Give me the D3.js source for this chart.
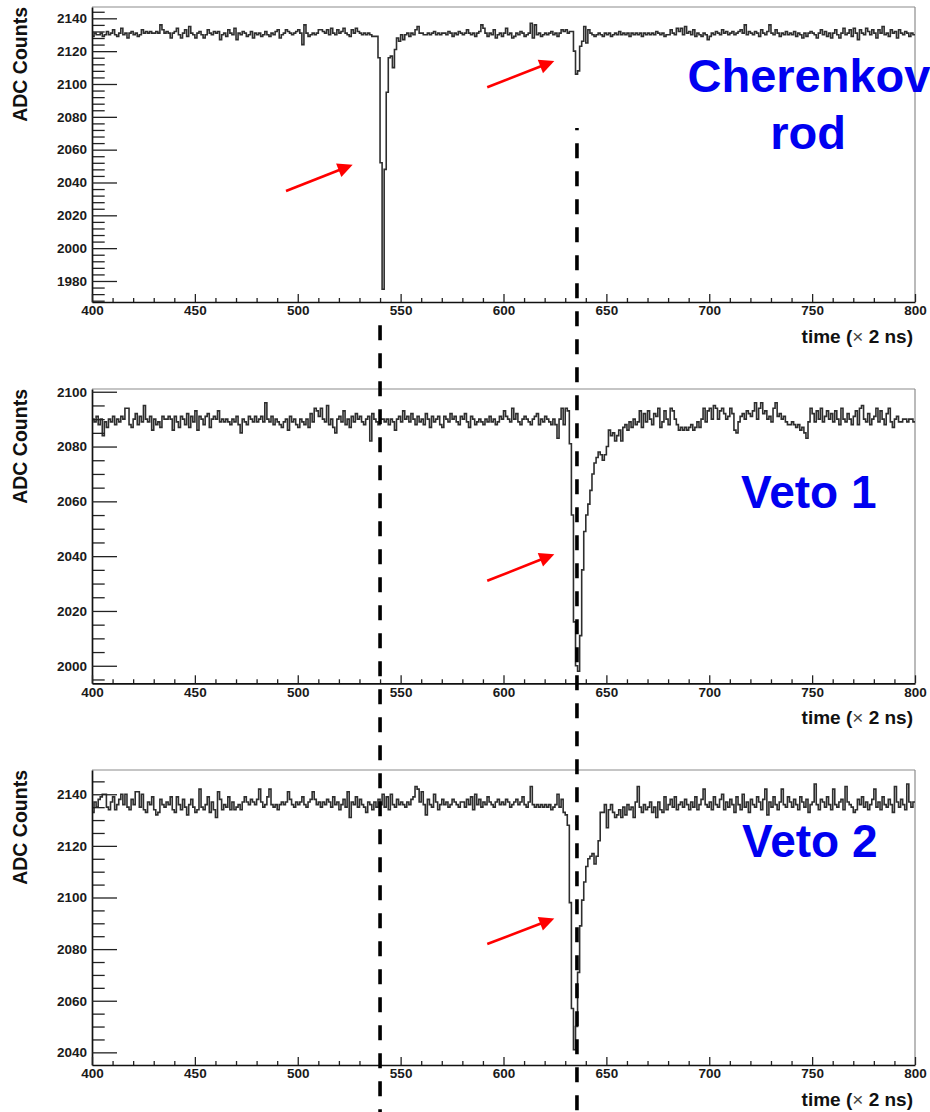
<!DOCTYPE html>
<html><head><meta charset="utf-8">
<script src="https://cdn.jsdelivr.net/npm/d3@7"></script>
<style>body{margin:0;background:#fff} svg{display:block}</style>
</head><body>
<svg id="c" width="930" height="1112"></svg>
<script>
// ---------------- data ----------------
const timeStart = 400;                       // first bin (x 2 ns)
const xTickLabels = [400,450,500,550,600,650,700,750,800];

const cherenkov = [
2129,2131,2130,2130,2131,2129,2130,2132,2130,2131,2133,2130,2129,2131,2134,2130,2131,2128,2131,2132,
2130,2131,2129,2130,2133,2131,2132,2131,2132,2131,2131,2132,2131,2136,2133,2131,2132,2131,2128,2131,
2132,2134,2130,2128,2131,2133,2129,2135,2131,2130,2128,2131,2132,2130,2128,2130,2133,2131,2130,2132,
2131,2132,2127,2130,2131,2129,2133,2131,2130,2134,2127,2131,2130,2132,2131,2129,2130,2132,2128,2131,
2130,2131,2129,2130,2132,2130,2129,2131,2130,2132,2133,2128,2130,2131,2133,2132,2131,2130,2131,2132,
2133,2131,2124,2136,2131,2129,2130,2131,2130,2131,2133,2133,2132,2131,2133,2130,2134,2131,2130,2133,
2131,2132,2134,2131,2130,2129,2133,2131,2134,2132,2131,2130,2131,2130,2131,2130,2129,2129,2129,2116,
2052,1975,2048,2095,2116,2117,2110,2121,2128,2126,2130,2127,2130,2131,2129,2131,2130,2133,2135,2131,
2131,2130,2130,2131,2130,2131,2132,2130,2131,2130,2131,2131,2130,2132,2131,2129,2131,2130,2132,2131,
2130,2131,2133,2131,2130,2131,2129,2131,2132,2136,2134,2131,2129,2131,2130,2133,2128,2130,2131,2129,
2131,2134,2130,2131,2128,2129,2131,2130,2132,2131,2129,2130,2131,2137,2128,2136,2130,2131,2129,2130,
2131,2130,2131,2132,2130,2131,2129,2131,2133,2132,2133,2131,2132,2132,2120,2106,2108,2123,2126,2135,
2125,2133,2131,2130,2129,2130,2131,2130,2129,2131,2130,2131,2129,2130,2131,2130,2132,2130,2131,2130,
2131,2129,2131,2130,2131,2130,2131,2129,2131,2130,2131,2130,2131,2130,2132,2131,2130,2131,2129,2130,
2130,2133,2131,2130,2134,2132,2134,2130,2135,2131,2132,2130,2133,2129,2131,2130,2129,2131,2130,2127,
2129,2131,2130,2132,2131,2130,2133,2131,2132,2130,2131,2132,2130,2131,2132,2133,2131,2136,2130,2132,
2131,2130,2132,2131,2129,2133,2131,2130,2132,2136,2131,2130,2133,2131,2129,2131,2130,2132,2130,2131,
2130,2132,2129,2131,2130,2128,2131,2129,2131,2132,2131,2130,2128,2131,2133,2130,2132,2129,2131,2128,
2131,2133,2130,2128,2131,2134,2130,2131,2133,2129,2134,2131,2127,2133,2131,2130,2134,2132,2130,2133,
2131,2128,2133,2131,2135,2130,2131,2129,2133,2131,2132,2128,2133,2131,2130,2132,2131,2129,2131,2130
];

const veto1 = [
2090,2089,2091,2088,2090,2084,2089,2087,2090,2089,2091,2088,2090,2089,2091,2090,2094,2094,2088,2087,
2090,2092,2088,2091,2089,2095,2090,2089,2091,2086,2090,2088,2089,2087,2091,2090,2090,2091,2090,2086,
2091,2089,2087,2091,2090,2088,2092,2087,2091,2089,2093,2086,2091,2090,2088,2091,2092,2087,2090,2091,
2090,2093,2089,2090,2089,2090,2089,2088,2090,2089,2091,2088,2085,2090,2089,2088,2091,2090,2089,2091,
2089,2090,2091,2089,2096,2090,2089,2091,2088,2090,2089,2088,2087,2089,2090,2086,2091,2089,2090,2088,
2087,2090,2089,2088,2090,2087,2092,2089,2094,2093,2091,2094,2090,2089,2095,2088,2090,2087,2085,2090,
2091,2089,2093,2088,2090,2087,2091,2089,2092,2090,2091,2089,2088,2090,2091,2082,2092,2090,2089,2088,
2090,2090,2089,2090,2088,2090,2089,2086,2090,2091,2089,2093,2090,2091,2089,2092,2090,2088,2091,2089,
2090,2088,2092,2090,2087,2091,2089,2090,2091,2088,2087,2091,2090,2089,2092,2090,2091,2089,2088,2091,
2090,2092,2089,2087,2091,2090,2088,2089,2090,2089,2088,2090,2089,2091,2089,2090,2088,2089,2091,2090,
2093,2091,2090,2089,2094,2090,2092,2089,2088,2090,2091,2090,2089,2088,2090,2091,2092,2088,2090,2089,
2091,2090,2089,2088,2090,2088,2083,2090,2094,2088,2094,2093,2081,2055,2016,2000,1998,2011,2035,2049,
2055,2059,2064,2070,2074,2076,2078,2077,2075,2077,2080,2086,2084,2085,2082,2084,2086,2082,2087,2088,
2086,2089,2087,2090,2088,2089,2093,2087,2092,2089,2093,2090,2088,2092,2091,2094,2087,2089,2093,2090,
2088,2094,2093,2090,2088,2086,2087,2086,2087,2086,2087,2088,2086,2087,2089,2087,2090,2094,2089,2093,
2094,2090,2095,2094,2090,2093,2094,2092,2090,2091,2094,2092,2086,2085,2089,2091,2092,2090,2093,2092,
2091,2093,2096,2090,2094,2096,2092,2093,2090,2091,2089,2094,2096,2091,2092,2090,2091,2089,2088,2088,
2089,2088,2087,2088,2086,2087,2085,2083,2089,2094,2092,2089,2093,2090,2094,2089,2091,2093,2090,2092,
2089,2093,2090,2088,2094,2090,2089,2092,2090,2088,2091,2093,2088,2094,2095,2090,2089,2092,2088,2090,
2091,2094,2089,2093,2090,2088,2092,2094,2089,2087,2090,2091,2089,2089,2090,2090,2089,2090,2090,2089
];

const veto2 = [
2133,2137,2135,2138,2139,2140,2140,2135,2134,2137,2139,2134,2136,2138,2140,2136,2140,2135,2134,2138,
2136,2141,2141,2135,2140,2134,2133,2137,2136,2139,2134,2132,2133,2138,2136,2135,2137,2136,2139,2134,
2133,2139,2136,2134,2138,2135,2132,2136,2138,2135,2133,2134,2142,2135,2134,2136,2139,2133,2137,2134,
2131,2141,2138,2134,2136,2135,2139,2134,2137,2134,2135,2136,2134,2137,2139,2137,2136,2138,2137,2136,
2138,2142,2137,2135,2136,2139,2142,2136,2135,2136,2134,2136,2137,2136,2137,2141,2138,2136,2135,2137,
2136,2137,2139,2136,2135,2137,2138,2141,2138,2136,2137,2135,2137,2136,2138,2137,2135,2139,2136,2137,
2134,2136,2138,2135,2141,2131,2137,2136,2139,2135,2138,2136,2135,2133,2137,2136,2134,2137,2135,2138,
2136,2140,2135,2139,2134,2140,2136,2135,2138,2136,2137,2136,2135,2137,2136,2138,2139,2143,2142,2137,
2141,2136,2132,2138,2136,2135,2140,2137,2134,2136,2138,2136,2137,2135,2136,2138,2137,2136,2135,2137,
2137,2135,2138,2136,2139,2134,2140,2136,2138,2135,2137,2136,2139,2137,2136,2135,2137,2138,2136,2137,
2136,2138,2137,2135,2136,2137,2138,2136,2137,2139,2136,2135,2137,2143,2136,2135,2136,2135,2136,2135,
2136,2135,2136,2134,2135,2136,2140,2135,2138,2133,2132,2128,2098,2057,2041,2050,2071,2089,2099,2106,
2112,2115,2116,2117,2113,2116,2122,2133,2133,2136,2127,2134,2136,2133,2131,2132,2134,2131,2135,2132,
2136,2134,2135,2131,2137,2143,2135,2133,2136,2134,2135,2137,2133,2135,2131,2137,2134,2133,2139,2134,
2136,2138,2135,2139,2134,2136,2137,2135,2138,2136,2134,2137,2135,2139,2134,2136,2138,2142,2136,2135,
2137,2134,2139,2136,2135,2138,2140,2134,2137,2135,2138,2136,2133,2139,2136,2134,2140,2135,2137,2133,
2138,2136,2135,2139,2137,2134,2138,2142,2132,2137,2135,2139,2136,2134,2137,2142,2136,2135,2139,2137,
2135,2138,2136,2134,2139,2137,2135,2138,2133,2136,2137,2144,2136,2134,2138,2137,2135,2139,2136,2134,
2142,2136,2135,2137,2138,2134,2143,2137,2136,2135,2133,2134,2138,2136,2139,2135,2137,2134,2136,2138,
2142,2135,2137,2134,2139,2136,2135,2138,2136,2133,2143,2137,2135,2138,2136,2134,2144,2137,2135,2137
];

const cherenkovYTicks = [1980,2000,2020,2040,2060,2080,2100,2120,2140];
const veto1YTicks = [2000,2020,2040,2060,2080,2100];
const veto2YTicks = [2040,2060,2080,2100,2120,2140];
const cherenkovRange = [1967.2, 2146.9];
const veto1Range = [1993.6, 2101.0];
const veto2Range = [2035.1, 2149.4];
const panelLabels = [["Cherenkov","rod"],["Veto 1"],["Veto 2"]];
const xTitle = ["time (", "\u00d7", " 2 ns)"];
const yTitle = "ADC Counts";
// arrows: panel, tail (time, ADC), tip (time, ADC)
const arrowPanel = [0,0,1,2];
const arrowTail = [[494.3,2034.8],[592.1,2098.0],[592.1,2031.0],[592.1,2082.0]];
const arrowTip  = [[526.7,2050.8],[624.7,2114.0],[624.7,2040.7],[624.7,2091.9]];
// dashed guide lines (time) and where they start (in Cherenkov ADC units)
const guideTimes = [540.0, 635.7];
const guideStartADC = [1953.0, 2073.2];

// ---------------- layout ----------------
const W = 930, H = 1112;
const left = 92, right = 915;
const panels = [
  {data:cherenkov, range:cherenkovRange, ticks:cherenkovYTicks, minor:4, top:7,   bottom:302},
  {data:veto1,     range:veto1Range,     ticks:veto1YTicks,     minor:5, top:389, bottom:683.3},
  {data:veto2,     range:veto2Range,     ticks:veto2YTicks,     minor:5, top:770, bottom:1065}
];
const FONT = "'Liberation Sans', Arial, Helvetica, sans-serif";
const svg = d3.select("#c");
svg.append("rect").attr("width",W).attr("height",H).attr("fill","#fff");

const x = d3.scaleLinear().domain([xTickLabels[0], xTickLabels[xTickLabels.length-1]]).range([left,right]);
const yScales = [];

panels.forEach((p,pi)=>{
  const y = d3.scaleLinear().domain(p.range).range([p.bottom,p.top]);
  yScales.push(y);
  const g = svg.append("g");

  // frame top / right
  g.append("line").attr("x1",left).attr("x2",right).attr("y1",p.top).attr("y2",p.top)
    .attr("stroke","#8c8c8c").attr("stroke-width",1.2);
  g.append("line").attr("x1",right).attr("x2",right).attr("y1",p.top).attr("y2",p.bottom)
    .attr("stroke","#8c8c8c").attr("stroke-width",1.2);

  // histogram
  const pts = p.data.map((v,k)=>[timeStart+k, v]);
  pts.push([timeStart+p.data.length, p.data[p.data.length-1]]);
  const line = d3.line().x(d=>x(d[0])).y(d=>y(d[1])).curve(d3.curveStepAfter);
  g.append("path").attr("d", line(pts)).attr("fill","none")
    .attr("stroke","#2e2e2e").attr("stroke-width",1.6).attr("stroke-linejoin","miter");

  // y minor ticks
  const lo = Math.ceil(p.range[0]/p.minor)*p.minor;
  const minorVals = d3.range(lo, p.range[1], p.minor).filter(v=>v%20!==0);
  const yMinor = d3.axisLeft(y).tickValues(minorVals).tickSize(-12.7).tickSizeOuter(0).tickFormat("");
  const gm = g.append("g").attr("transform",`translate(${left},0)`).call(yMinor);
  gm.select(".domain").remove();
  gm.selectAll(".tick line").attr("stroke","#222").attr("stroke-width",1.3);

  // y major axis
  const yAxis = d3.axisLeft(y).tickValues(p.ticks).tickSize(-25).tickSizeOuter(0).tickPadding(5).tickFormat(d3.format("d"));
  const gy = g.append("g").attr("transform",`translate(${left},0)`).call(yAxis);
  gy.select(".domain").attr("stroke","#111").attr("stroke-width",1.7);
  gy.selectAll(".tick line").attr("stroke","#222").attr("stroke-width",1.3);
  gy.attr("font-family",FONT).attr("font-size",13.5).attr("font-weight","bold");
  gy.selectAll("text").attr("fill","#1a1a1a");

  // x minor ticks
  const xMinorVals = d3.range(xTickLabels[0], xTickLabels[xTickLabels.length-1]+1, 10).filter(v=>v%50!==0);
  const xMinor = d3.axisBottom(x).tickValues(xMinorVals).tickSize(-4).tickSizeOuter(0).tickFormat("");
  const gxm = g.append("g").attr("transform",`translate(0,${p.bottom})`).call(xMinor);
  gxm.select(".domain").remove();
  gxm.selectAll(".tick line").attr("stroke","#222").attr("stroke-width",1.3);

  // x major axis
  const xAxis = d3.axisBottom(x).tickValues(xTickLabels).tickSize(-8).tickSizeOuter(0).tickPadding(3.7).tickFormat(d3.format("d"));
  const gx = g.append("g").attr("transform",`translate(0,${p.bottom})`).call(xAxis);
  gx.select(".domain").attr("stroke","#111").attr("stroke-width",1.7);
  gx.selectAll(".tick line").attr("stroke","#222").attr("stroke-width",1.3);
  gx.attr("font-family",FONT).attr("font-size",13.5).attr("font-weight","bold");
  gx.selectAll("text").attr("fill","#1a1a1a");

  // y title
  g.append("text").attr("transform",`translate(27,${p.top}) rotate(-90)`)
    .attr("text-anchor","end").attr("font-family",FONT).attr("font-weight","bold")
    .attr("font-size",19.5).attr("fill","#111").text(yTitle);

  // x title
  const xt = g.append("text").attr("x",913).attr("y",p.bottom+40.5)
    .attr("text-anchor","end").attr("font-family",FONT).attr("font-weight","bold")
    .attr("font-size",19).attr("fill","#111");
  xt.append("tspan").text(xTitle[0]);
  xt.append("tspan").attr("font-weight","normal").attr("fill","#444").text(xTitle[1]);
  xt.append("tspan").text(xTitle[2]);
});

// panel labels (blue)
const lab = svg.append("g").attr("font-family",FONT).attr("font-weight","bold")
  .attr("font-size",47).attr("fill","#0000f0");
lab.append("text").attr("x",809).attr("y",92).attr("text-anchor","middle").text(panelLabels[0][0]);
lab.append("text").attr("x",808).attr("y",149).attr("text-anchor","middle").text(panelLabels[0][1]);
lab.append("text").attr("x",741).attr("y",508).attr("font-size",46).text(panelLabels[1][0]);
lab.append("text").attr("x",742).attr("y",857).attr("font-size",46).text(panelLabels[2][0]);

// red arrows
const ag = svg.append("g");
arrowPanel.forEach((pi,i)=>{
  const y = yScales[pi];
  const x1 = x(arrowTail[i][0]), y1 = y(arrowTail[i][1]);
  const x2 = x(arrowTip[i][0]),  y2 = y(arrowTip[i][1]);
  const ang = Math.atan2(y2-y1, x2-x1), L = 15, Wd = 7.2;
  const bx = x2 - L*Math.cos(ang), by = y2 - L*Math.sin(ang);
  ag.append("line").attr("x1",x1).attr("y1",y1).attr("x2",bx+2*Math.cos(ang)).attr("y2",by+2*Math.sin(ang))
    .attr("stroke","#ff0000").attr("stroke-width",2.6);
  ag.append("polygon").attr("points",[
    [x2,y2],
    [bx + Wd*Math.sin(ang), by - Wd*Math.cos(ang)],
    [bx - Wd*Math.sin(ang), by + Wd*Math.cos(ang)]
  ].map(d=>d.join(",")).join(" ")).attr("fill","#ff0000");
});

// dashed guide lines
const guideOffsets = [0, 12.7];
guideTimes.forEach((t,i)=>{
  svg.append("line").attr("x1",x(t)).attr("x2",x(t))
    .attr("y1",yScales[0](guideStartADC[i])).attr("y2",H)
    .attr("stroke","#000").attr("stroke-width",3.6)
    .attr("stroke-dasharray","15,13").attr("stroke-dashoffset",guideOffsets[i]);
});
</script>
</body></html>
